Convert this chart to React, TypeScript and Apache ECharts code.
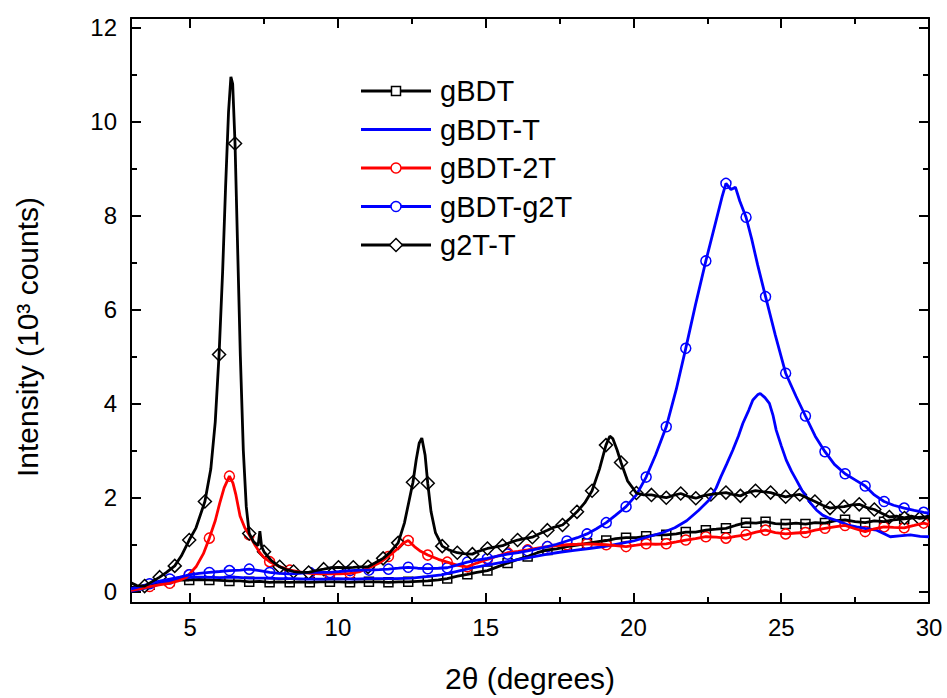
import React, { useEffect, useRef } from "react";
import * as echarts from "echarts";

const FONT = "'Liberation Sans', Arial, Helvetica, sans-serif";

// ---- axis ticks / labels ----
const xMajorTicks = [5, 10, 15, 20, 25, 30];
const xMinorTicks = [7.5, 12.5, 17.5, 22.5, 27.5];
const yMajorTicks = [0, 2, 4, 6, 8, 10, 12];
const yMinorTicks = [1, 3, 5, 7, 9, 11];

const seriesNames = ["gBDT", "gBDT-T", "gBDT-2T", "gBDT-g2T", "g2T-T"];

// ---- gBDT (black, squares) ----
const gbdtCurve: [number, number][] = [
  [3.0, 0.08], [3.3, 0.1], [3.63, 0.14], [4.0, 0.2], [4.31, 0.22], [4.6, 0.24], [4.97, 0.24], [5.3, 0.25],
  [5.65, 0.24], [6.0, 0.23], [6.33, 0.22], [6.7, 0.22], [7.0, 0.2], [7.35, 0.21], [7.69, 0.19], [8.0, 0.2],
  [8.37, 0.19], [8.7, 0.2], [9.05, 0.19], [9.4, 0.2], [9.73, 0.2], [10.05, 0.2], [10.41, 0.19], [10.7, 0.2],
  [11.05, 0.2], [11.4, 0.2], [11.71, 0.19], [12.05, 0.2], [12.38, 0.2], [12.7, 0.21], [13.04, 0.22], [13.4, 0.24],
  [13.7, 0.27], [14.05, 0.32], [14.38, 0.36], [14.7, 0.4], [15.06, 0.44], [15.4, 0.52], [15.74, 0.6], [16.1, 0.68],
  [16.42, 0.74], [16.75, 0.82], [17.09, 0.88], [17.4, 0.9], [17.75, 0.95], [18.1, 0.98], [18.43, 1.02], [18.75, 1.05],
  [19.08, 1.08], [19.4, 1.12], [19.75, 1.14], [20.1, 1.14], [20.43, 1.17], [20.75, 1.2], [21.11, 1.2], [21.45, 1.22],
  [21.77, 1.26], [22.1, 1.26], [22.45, 1.3], [22.8, 1.32], [23.13, 1.34], [23.45, 1.4], [23.81, 1.46], [24.15, 1.45],
  [24.47, 1.48], [24.8, 1.44], [25.15, 1.43], [25.5, 1.45], [25.82, 1.43], [26.15, 1.46], [26.48, 1.45], [26.8, 1.5],
  [27.16, 1.52], [27.5, 1.48], [27.84, 1.46], [28.15, 1.5], [28.48, 1.48], [28.8, 1.52], [29.16, 1.54], [29.5, 1.56],
  [29.82, 1.58], [30.0, 1.6],
];
const gbdtMarks: [number, number][] = [
  [3.63, 0.14], [4.31, 0.22], [4.97, 0.24], [5.65, 0.24], [6.33, 0.22], [7.0, 0.2], [7.69, 0.19], [8.37, 0.19],
  [9.05, 0.19], [9.73, 0.2], [10.41, 0.19], [11.05, 0.2], [11.71, 0.19], [12.38, 0.2], [13.04, 0.22], [13.7, 0.27],
  [14.38, 0.36], [15.06, 0.44], [15.74, 0.6], [16.42, 0.74], [17.09, 0.88], [17.75, 0.95], [18.43, 1.02], [19.08, 1.08],
  [19.75, 1.14], [20.43, 1.17], [21.11, 1.2], [21.77, 1.26], [22.45, 1.3], [23.13, 1.34], [23.81, 1.46], [24.47, 1.48],
  [25.15, 1.43], [25.82, 1.43], [26.48, 1.45], [27.16, 1.52], [27.84, 1.46], [28.48, 1.48], [29.16, 1.54], [29.82, 1.58],
];

// ---- gBDT-T (blue, no markers) ----
const gbdtTCurve: [number, number][] = [
  [3.0, 0.0], [3.3, 0.04], [3.6, 0.08], [3.9, 0.14], [4.2, 0.2], [4.5, 0.25], [4.8, 0.28], [5.1, 0.3],
  [5.5, 0.3], [6.0, 0.29], [6.5, 0.3], [7.0, 0.28], [7.5, 0.28], [8.0, 0.27], [8.5, 0.27], [9.0, 0.26],
  [9.5, 0.26], [10.0, 0.27], [10.5, 0.26], [11.0, 0.27], [11.5, 0.27], [12.0, 0.27], [12.5, 0.28], [13.0, 0.31],
  [13.5, 0.35], [14.0, 0.42], [14.5, 0.49], [15.0, 0.55], [15.5, 0.61], [16.0, 0.66], [16.5, 0.72], [17.0, 0.78],
  [17.5, 0.83], [18.0, 0.87], [18.5, 0.91], [19.0, 0.95], [19.5, 1.01], [20.0, 1.07], [20.5, 1.16], [21.0, 1.25],
  [21.4, 1.35], [21.8, 1.5], [22.2, 1.72], [22.56, 1.94], [22.8, 2.2], [22.96, 2.44], [23.15, 2.7], [23.36, 3.0],
  [23.55, 3.3], [23.7, 3.57], [23.9, 3.85], [24.04, 4.07], [24.2, 4.18], [24.29, 4.21], [24.45, 4.12], [24.6, 4.0],
  [24.72, 3.75], [24.83, 3.43], [25.0, 3.1], [25.17, 2.79], [25.35, 2.55], [25.51, 2.37], [25.7, 2.15], [25.85, 2.01],
  [26.0, 1.87], [26.19, 1.73], [26.4, 1.62], [26.65, 1.55], [26.9, 1.5], [27.1, 1.45], [27.3, 1.4], [27.55, 1.37],
  [27.9, 1.33], [28.23, 1.3], [28.5, 1.22], [28.69, 1.16], [29.0, 1.18], [29.37, 1.2], [29.7, 1.17], [30.0, 1.16],
];

// ---- gBDT-2T (red, circles) ----
const gbdt2TCurve: [number, number][] = [
  [3.0, 0.02], [3.3, 0.05], [3.63, 0.1], [4.0, 0.14], [4.31, 0.17], [4.6, 0.22], [4.88, 0.3], [5.2, 0.52],
  [5.45, 0.8], [5.65, 1.13], [5.85, 1.5], [6.0, 1.87], [6.15, 2.2], [6.33, 2.45], [6.45, 2.3], [6.55, 2.05],
  [6.69, 1.6], [6.85, 1.35], [7.0, 1.2], [7.2, 0.98], [7.37, 0.81], [7.5, 0.72], [7.69, 0.63], [8.0, 0.53],
  [8.37, 0.45], [8.7, 0.41], [9.05, 0.38], [9.4, 0.37], [9.73, 0.37], [10.05, 0.37], [10.41, 0.38], [10.75, 0.42],
  [11.05, 0.5], [11.4, 0.6], [11.71, 0.74], [12.05, 0.92], [12.2, 1.02], [12.38, 1.08], [12.59, 0.95], [12.8, 0.85],
  [13.04, 0.77], [13.4, 0.68], [13.7, 0.62], [14.05, 0.55], [14.38, 0.52], [14.7, 0.6], [15.06, 0.68], [15.4, 0.75],
  [15.74, 0.82], [16.1, 0.85], [16.42, 0.88], [16.75, 0.92], [17.09, 0.95], [17.4, 0.97], [17.75, 0.99], [18.1, 1.0],
  [18.43, 1.01], [18.75, 1.0], [19.08, 0.99], [19.4, 0.97], [19.75, 0.95], [20.1, 0.98], [20.43, 1.01], [20.75, 1.0],
  [21.11, 1.01], [21.45, 1.05], [21.77, 1.09], [22.1, 1.12], [22.45, 1.16], [22.8, 1.15], [23.13, 1.13], [23.45, 1.17],
  [23.81, 1.2], [24.15, 1.26], [24.47, 1.3], [24.8, 1.25], [25.15, 1.22], [25.5, 1.24], [25.82, 1.25], [26.15, 1.3],
  [26.48, 1.34], [26.8, 1.37], [27.16, 1.4], [27.5, 1.33], [27.84, 1.27], [28.15, 1.33], [28.48, 1.37], [28.8, 1.36],
  [29.16, 1.35], [29.5, 1.4], [29.82, 1.45], [30.0, 1.42],
];
const gbdt2TMarks: [number, number][] = [
  [3.63, 0.1], [4.31, 0.17], [4.97, 0.35], [5.65, 1.13], [6.33, 2.45], [7.0, 1.2], [7.69, 0.63], [8.37, 0.45],
  [9.05, 0.38], [9.73, 0.37], [10.41, 0.38], [11.05, 0.5], [11.71, 0.74], [12.38, 1.08], [13.04, 0.77], [13.7, 0.62],
  [14.38, 0.52], [15.06, 0.68], [15.74, 0.82], [16.42, 0.88], [17.09, 0.95], [17.75, 0.99], [18.43, 1.01], [19.08, 0.99],
  [19.75, 0.95], [20.43, 1.01], [21.11, 1.01], [21.77, 1.09], [22.45, 1.16], [23.13, 1.13], [23.81, 1.2], [24.47, 1.3],
  [25.15, 1.22], [25.82, 1.25], [26.48, 1.34], [27.16, 1.4], [27.84, 1.27], [28.48, 1.37], [29.16, 1.35], [29.82, 1.45],
];

// ---- gBDT-g2T (blue, circles) ----
const gbdtG2TCurve: [number, number][] = [
  [3.0, 0.05], [3.3, 0.1], [3.63, 0.16], [4.0, 0.22], [4.31, 0.26], [4.65, 0.3], [4.97, 0.35], [5.3, 0.38],
  [5.65, 0.4], [6.0, 0.42], [6.33, 0.44], [6.7, 0.45], [7.0, 0.47], [7.35, 0.44], [7.69, 0.4], [8.0, 0.38],
  [8.37, 0.37], [8.7, 0.38], [9.05, 0.4], [9.4, 0.4], [9.73, 0.4], [10.05, 0.42], [10.41, 0.44], [10.75, 0.45],
  [11.05, 0.45], [11.4, 0.46], [11.71, 0.47], [12.05, 0.49], [12.38, 0.51], [12.7, 0.49], [13.04, 0.48], [13.4, 0.49],
  [13.7, 0.5], [14.05, 0.56], [14.38, 0.62], [14.7, 0.66], [15.06, 0.7], [15.4, 0.75], [15.74, 0.79], [16.1, 0.82],
  [16.42, 0.86], [16.75, 0.9], [17.09, 0.95], [17.4, 1.0], [17.75, 1.07], [18.1, 1.14], [18.43, 1.22], [18.75, 1.33],
  [19.08, 1.46], [19.4, 1.62], [19.75, 1.8], [20.1, 2.05], [20.43, 2.43], [20.75, 2.9], [21.11, 3.5], [21.45, 4.3],
  [21.77, 5.17], [22.1, 6.1], [22.45, 7.03], [22.8, 7.9], [23.0, 8.4], [23.13, 8.68], [23.3, 8.55], [23.45, 8.6],
  [23.6, 8.3], [23.81, 7.96], [24.0, 7.5], [24.2, 6.95], [24.47, 6.27], [24.8, 5.45], [25.15, 4.64], [25.5, 4.15],
  [25.82, 3.73], [26.15, 3.3], [26.48, 2.97], [26.8, 2.7], [27.16, 2.5], [27.5, 2.37], [27.84, 2.24], [28.15, 2.05],
  [28.48, 1.91], [28.8, 1.83], [29.16, 1.77], [29.5, 1.72], [29.82, 1.68], [30.0, 1.66],
];
const gbdtG2TMarks: [number, number][] = [
  [3.63, 0.16], [4.31, 0.26], [4.97, 0.35], [5.65, 0.4], [6.33, 0.44], [7.0, 0.47], [7.69, 0.4], [8.37, 0.37],
  [9.05, 0.4], [9.73, 0.4], [10.41, 0.44], [11.05, 0.45], [11.71, 0.47], [12.38, 0.51], [13.04, 0.48], [13.7, 0.5],
  [14.38, 0.62], [15.06, 0.7], [15.74, 0.79], [16.42, 0.86], [17.09, 0.95], [17.75, 1.07], [18.43, 1.22], [19.08, 1.46],
  [19.75, 1.8], [20.43, 2.43], [21.11, 3.5], [21.77, 5.17], [22.45, 7.03], [23.13, 8.68], [23.81, 7.96], [24.47, 6.27],
  [25.15, 4.64], [25.82, 3.73], [26.48, 2.97], [27.16, 2.5], [27.84, 2.24], [28.48, 1.91], [29.16, 1.77], [29.82, 1.68],
];

// ---- g2T-T (black, diamonds) ----
const g2tTCurve: [number, number][] = [
  [3.0, 0.18], [3.2, 0.12], [3.46, 0.11], [3.7, 0.2], [3.97, 0.3], [4.2, 0.4], [4.48, 0.54], [4.7, 0.75],
  [4.97, 1.09], [5.2, 1.35], [5.5, 1.91], [5.7, 2.6], [5.85, 3.6], [5.98, 5.04], [6.1, 6.8], [6.2, 8.6],
  [6.3, 10.2], [6.38, 10.95], [6.44, 10.8], [6.52, 9.53], [6.6, 7.5], [6.7, 5.0], [6.8, 3.0], [6.9, 1.8],
  [7.0, 1.23], [7.15, 1.05], [7.3, 0.97], [7.36, 1.28], [7.42, 0.95], [7.5, 0.84], [7.75, 0.65], [8.03, 0.52],
  [8.25, 0.46], [8.5, 0.42], [8.75, 0.4], [9.01, 0.4], [9.25, 0.44], [9.52, 0.47], [9.75, 0.5], [10.02, 0.51],
  [10.25, 0.5], [10.52, 0.51], [10.75, 0.52], [11.02, 0.52], [11.25, 0.6], [11.53, 0.7], [11.75, 0.82], [12.04, 1.03],
  [12.25, 1.45], [12.4, 1.9], [12.54, 2.32], [12.65, 2.8], [12.75, 3.15], [12.84, 3.26], [12.95, 2.9], [13.04, 2.3],
  [13.15, 1.7], [13.3, 1.25], [13.53, 0.96], [13.75, 0.88], [14.04, 0.82], [14.25, 0.8], [14.55, 0.79], [14.75, 0.85],
  [15.06, 0.91], [15.3, 0.94], [15.57, 0.97], [15.8, 1.03], [16.08, 1.09], [16.3, 1.12], [16.58, 1.15], [16.8, 1.22],
  [17.09, 1.3], [17.3, 1.36], [17.6, 1.41], [17.85, 1.55], [18.09, 1.69], [18.35, 1.88], [18.6, 2.14], [18.85, 2.6],
  [19.07, 3.11], [19.2, 3.3], [19.3, 3.25], [19.45, 3.0], [19.58, 2.74], [19.8, 2.35], [20.1, 2.09], [20.35, 2.05],
  [20.61, 2.05], [20.85, 2.02], [21.11, 1.99], [21.35, 2.04], [21.6, 2.08], [21.85, 2.02], [22.11, 1.98], [22.35, 2.03],
  [22.62, 2.06], [22.85, 2.08], [23.13, 2.1], [23.35, 2.06], [23.62, 2.03], [23.85, 2.1], [24.13, 2.14], [24.35, 2.12],
  [24.64, 2.1], [24.9, 2.05], [25.15, 2.01], [25.4, 2.04], [25.63, 2.06], [25.9, 1.98], [26.14, 1.91], [26.4, 1.83],
  [26.65, 1.77], [26.9, 1.79], [27.13, 1.8], [27.4, 1.84], [27.64, 1.85], [27.9, 1.78], [28.15, 1.74], [28.4, 1.66],
  [28.66, 1.58], [28.9, 1.6], [29.17, 1.56], [29.4, 1.6], [29.68, 1.55], [30.0, 1.58],
];
const g2tTMarks: [number, number][] = [
  [3.46, 0.11], [3.97, 0.3], [4.48, 0.54], [4.97, 1.09], [5.5, 1.91], [5.98, 5.04], [6.52, 9.53], [7.0, 1.23],
  [7.5, 0.84], [8.03, 0.52], [8.5, 0.42], [9.01, 0.4], [9.52, 0.47], [10.02, 0.51], [10.52, 0.51], [11.02, 0.52],
  [11.53, 0.7], [12.04, 1.03], [12.54, 2.32], [13.04, 2.3], [13.53, 0.96], [14.04, 0.82], [14.55, 0.79], [15.06, 0.91],
  [15.57, 0.97], [16.08, 1.09], [16.58, 1.15], [17.09, 1.3], [17.6, 1.41], [18.09, 1.69], [18.6, 2.14], [19.07, 3.11],
  [19.58, 2.74], [20.1, 2.09], [20.61, 2.05], [21.11, 1.99], [21.6, 2.08], [22.11, 1.98], [22.62, 2.06], [23.13, 2.1],
  [23.62, 2.03], [24.13, 2.14], [24.64, 2.1], [25.15, 2.01], [25.63, 2.06], [26.14, 1.91], [26.65, 1.77], [27.13, 1.8],
  [27.64, 1.85], [28.15, 1.74], [28.66, 1.58], [29.17, 1.56], [29.68, 1.55],
];

const BLACK = "#000000";
const BLUE = "#0000FF";
const RED = "#FF0000";

function xAxisDef(position: "bottom" | "top", ticks: number[], len: number, withLine: boolean, withLabels: boolean) {
  const ax: any = {
    type: "value",
    position,
    min: 3,
    max: 30,
    axisLine: { show: withLine, onZero: false, lineStyle: { color: BLACK, width: 2 } },
    axisTick: { show: true, inside: true, length: len, customValues: ticks, lineStyle: { color: BLACK, width: 2 } },
    axisLabel: withLabels
      ? { show: true, customValues: xMajorTicks, margin: 12, fontSize: 24, color: BLACK, fontFamily: FONT }
      : { show: false },
    splitLine: { show: false },
  };
  if (withLabels) {
    ax.name = "2θ (degrees)";
    ax.nameLocation = "middle";
    ax.nameGap = 60;
    ax.nameTextStyle = { fontSize: 30, color: BLACK, fontFamily: FONT };
  }
  return ax;
}

function yAxisDef(position: "left" | "right", ticks: number[], len: number, withLine: boolean, withLabels: boolean) {
  return {
    type: "value",
    position,
    min: -0.25,
    max: 12.2,
    axisLine: { show: withLine, onZero: false, lineStyle: { color: BLACK, width: 2 } },
    axisTick: { show: true, inside: true, length: len, customValues: ticks, lineStyle: { color: BLACK, width: 2 } },
    axisLabel: withLabels
      ? { show: true, customValues: yMajorTicks, margin: 14, fontSize: 24, color: BLACK, fontFamily: FONT }
      : { show: false },
    splitLine: { show: false },
  };
}

function lineSeries(name: string, data: [number, number][], color: string) {
  return {
    name,
    type: "line",
    data,
    showSymbol: false,
    symbol: "none",
    silent: true,
    lineStyle: { color, width: 2.8 },
    itemStyle: { color },
  };
}

function markSeries(name: string, data: [number, number][], symbol: string, size: number, color: string) {
  return {
    name,
    type: "scatter",
    data,
    symbol,
    symbolSize: size,
    silent: true,
    itemStyle: { color: "#FFFFFF", borderColor: color, borderWidth: 1.5, opacity: 1 },
  };
}

// legend drawn as graphic elements
const legendRows = [
  { name: seriesNames[0], color: BLACK, sym: "square" },
  { name: seriesNames[1], color: BLUE, sym: "none" },
  { name: seriesNames[2], color: RED, sym: "circle" },
  { name: seriesNames[3], color: BLUE, sym: "circle" },
  { name: seriesNames[4], color: BLACK, sym: "diamond" },
];

function buildLegend() {
  const x1 = 361, x2 = 431, cx = 396, tx = 440, y0 = 91, dy = 38.5;
  const els: any[] = [];
  legendRows.forEach((r, i) => {
    const y = y0 + i * dy;
    els.push({ type: "line", shape: { x1, y1: y, x2, y2: y }, style: { stroke: r.color, lineWidth: 2.8 }, silent: true });
    const sst = { fill: "#FFFFFF", stroke: r.color, lineWidth: 1.5 };
    if (r.sym === "square") els.push({ type: "rect", shape: { x: cx - 4.5, y: y - 4.5, width: 9, height: 9 }, style: sst });
    if (r.sym === "circle") els.push({ type: "circle", shape: { cx, cy: y, r: 5 }, style: sst });
    if (r.sym === "diamond")
      els.push({ type: "polygon", shape: { points: [[cx, y - 6.5], [cx + 6.5, y], [cx, y + 6.5], [cx - 6.5, y]] }, style: sst });
    els.push({
      type: "text",
      x: tx,
      y,
      style: { text: r.name, fontSize: 29, fontFamily: FONT, fill: BLACK, align: "left", verticalAlign: "middle" },
    });
  });
  els.push({
    type: "text",
    x: 27,
    y: 337,
    rotation: Math.PI / 2,
    style: {
      text: "Intensity (10³ counts)",
      fontSize: 30,
      fontFamily: FONT,
      fill: BLACK,
      align: "center",
      verticalAlign: "middle",
    },
  });
  return els;
}

const option: any = {
  animation: false,
  backgroundColor: "#FFFFFF",
  grid: { left: 131, right: 18, top: 18, bottom: 95, containLabel: false, outerBoundsMode: "none" },
  xAxis: [
    xAxisDef("bottom", xMajorTicks, 10, true, true),
    xAxisDef("bottom", xMinorTicks, 6, false, false),
    xAxisDef("top", xMajorTicks, 10, true, false),
    xAxisDef("top", xMinorTicks, 6, false, false),
  ],
  yAxis: [
    yAxisDef("left", yMajorTicks, 10, true, true),
    yAxisDef("left", yMinorTicks, 6, false, false),
    yAxisDef("right", yMajorTicks, 10, true, false),
    yAxisDef("right", yMinorTicks, 6, false, false),
  ],
  series: [
    lineSeries(seriesNames[0], gbdtCurve, BLACK),
    markSeries(seriesNames[0], gbdtMarks, "rect", 9, BLACK),
    lineSeries(seriesNames[1], gbdtTCurve, BLUE),
    lineSeries(seriesNames[2], gbdt2TCurve, RED),
    markSeries(seriesNames[2], gbdt2TMarks, "circle", 10, RED),
    lineSeries(seriesNames[3], gbdtG2TCurve, BLUE),
    markSeries(seriesNames[3], gbdtG2TMarks, "circle", 10, BLUE),
    lineSeries(seriesNames[4], g2tTCurve, BLACK),
    markSeries(seriesNames[4], g2tTMarks, "diamond", 13, BLACK),
  ],
  graphic: buildLegend(),
};

export default function App() {
  const ref = useRef<HTMLDivElement>(null);
  useEffect(() => {
    if (!ref.current) return;
    const chart = echarts.init(ref.current, null, { renderer: "svg" });
    chart.setOption(option);
    return () => chart.dispose();
  }, []);
  return (
    <div
      ref={ref}
      style={{ position: "fixed", left: 0, top: 0, width: 947, height: 698, background: "#FFFFFF" }}
    />
  );
}
